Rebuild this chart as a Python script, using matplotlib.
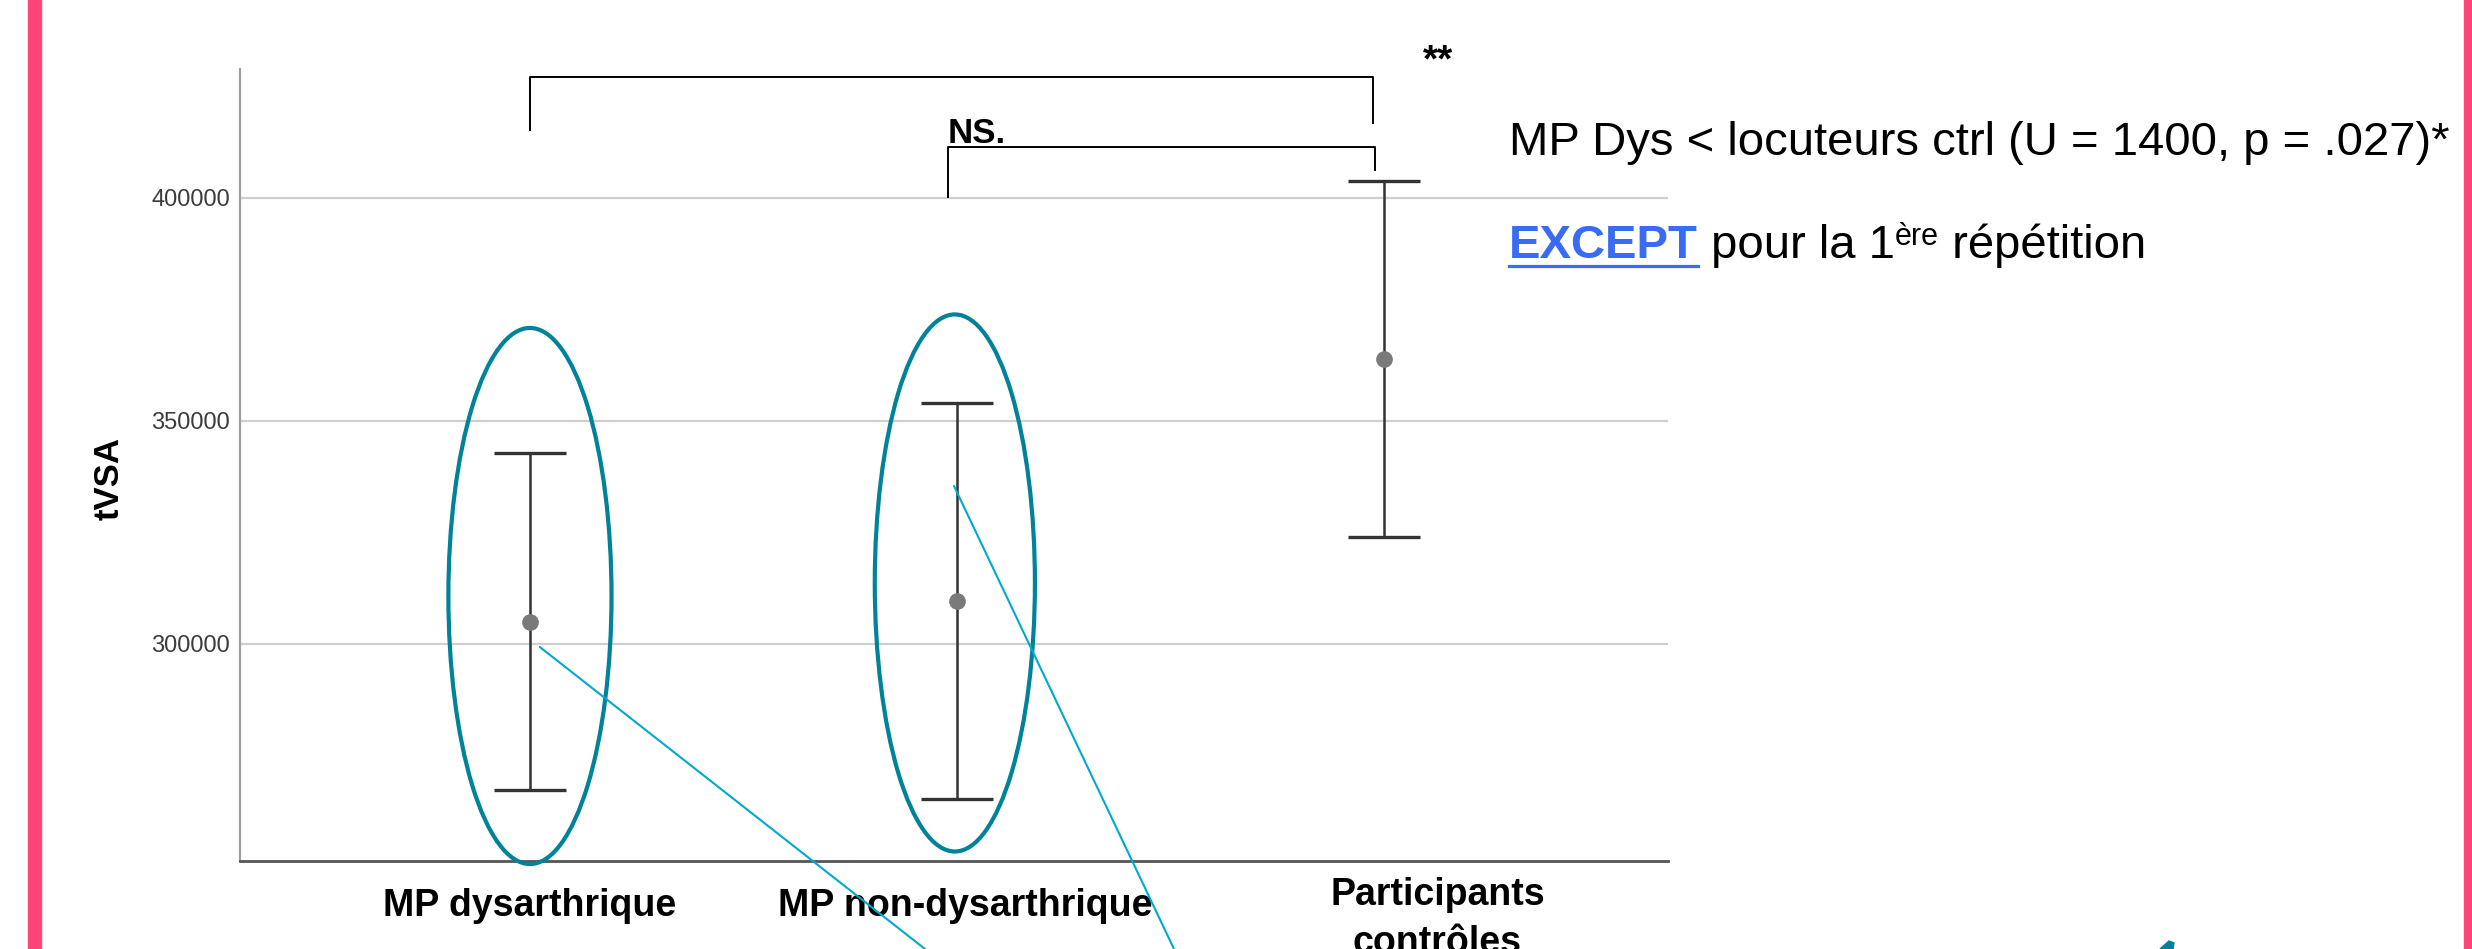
import numpy as np
import matplotlib
matplotlib.use('Agg')
import matplotlib.pyplot as plt
from matplotlib.patches import Ellipse, Rectangle, Polygon
from matplotlib.lines import Line2D

plt.rcParams['font.family'] = ['Liberation Sans', 'DejaVu Sans']

# values (mean and 95% CI of tVSA)
groups = ['MP dysarthrique', 'MP non-dysarthrique', 'Participants\ncontrôles']
means = [304930, 309570, 363800]
ci_low = [267180, 265140, 323900]
ci_high = [342760, 354010, 403700]
yticks = [300000, 350000, 400000]

# label positions (labels are not centred exactly on the bars in the original)
label_x = [0.0, 1.02, 2.125]

W, H = 2472, 949
fig = plt.figure(figsize=(W / 100, H / 100), dpi=100)
ax = fig.add_axes([240 / W, 1 - 861 / H, (1668 - 240) / W, (861 - 69) / H])

x = np.arange(len(groups))
means_a = np.array(means)
yerr = [means_a - np.array(ci_low), np.array(ci_high) - means_a]

ax.errorbar(x, means, yerr=yerr, fmt='o', color='#7a7a7a', markersize=11,
            ecolor='#333333', elinewidth=1.8, capsize=26, capthick=2.4, zorder=3)

ax.set_xlim(-0.679, 2.665)
ax.set_ylim(251350, 428900)
ax.set_yticks(yticks)
ax.set_yticklabels([str(v) for v in yticks], fontsize=17, color='#3c3c3c',
                   family=['Liberation Sans Narrow', 'Liberation Sans', 'DejaVu Sans'])
ax.set_xticks([])
ax.tick_params(axis='y', length=0, pad=7)
ax.yaxis.grid(True, color='#cfcfcf', lw=1.6)
ax.set_axisbelow(True)
for s in ['top', 'right']:
    ax.spines[s].set_visible(False)
ax.spines['left'].set_color('#a0a0a0')
ax.spines['left'].set_linewidth(1.6)
ax.spines['bottom'].set_color('#555555')
ax.spines['bottom'].set_linewidth(2)

# category labels
tr = ax.get_xaxis_transform()
for lx, g in zip(label_x, groups):
    lines = g.split('\n')
    if len(lines) == 1:
        ax.text(lx, -0.0694, g, transform=tr, ha='center', va='baseline',
                fontsize=27, fontweight='bold', clip_on=False)
    else:
        ax.text(lx, -0.0556, lines[0], transform=tr, ha='center', va='baseline',
                fontsize=27, fontweight='bold', clip_on=False)
        ax.text(lx, -0.1162, lines[1], transform=tr, ha='center', va='baseline',
                fontsize=27, fontweight='bold', clip_on=False)

# y label
fig.text(109 / W, 1 - 478 / H, 'tVSA', rotation=90, ha='center', va='center',
         fontsize=25, fontweight='bold',
         family=['Liberation Sans Narrow', 'Liberation Sans', 'DejaVu Sans'])

# significance brackets
ax.plot([0.0, 0.0, 1.975, 1.975], [415250, 427080, 427080, 416800],
        color='black', lw=1.4, clip_on=False)
ax.plot([0.979, 0.979, 1.98, 1.98], [400200, 411400, 411400, 406300],
        color='black', lw=1.4, clip_on=False)
ax.text(2.127, 428250, '**', ha='center', va='baseline', fontsize=28,
        fontweight='bold', clip_on=False)
ax.text(0.977, 412330, 'NS.', ha='left', va='baseline', fontsize=25,
        fontweight='bold', clip_on=False,
        family=['Liberation Sans Narrow', 'Liberation Sans', 'DejaVu Sans'])

# teal ellipses around the two patient groups
teal = '#00829A'
ax.add_patch(Ellipse((0.0, 310760), 0.382, 120180, fill=False, ec=teal,
                     lw=3, clip_on=False, zorder=4))
ax.add_patch(Ellipse((0.995, 313680), 0.375, 120400, fill=False, ec=teal,
                     lw=3, clip_on=False, zorder=4))

# cyan pointer lines running off the bottom of the slide
cyan = '#00A9CE'
for start, end in [((0.023, 299330), (925 / W, 0)), ((0.993, 335430), (1174 / W, 0))]:
    ax.annotate('', xy=end, xycoords='figure fraction', xytext=start,
                textcoords='data',
                arrowprops=dict(arrowstyle='-', color=cyan, lw=1.5,
                                shrinkA=0, shrinkB=0), zorder=5)

# right hand text
fig.text(1509 / W, 1 - 155 / H, 'MP Dys < locuteurs ctrl (U = 1400, p = .027)*',
         fontsize=34, va='baseline', ha='left', color='black')

renderer = fig.canvas.get_renderer()
base = 1 - 258 / H
xpos = 1509 / W
pieces = [
    ('EXCEPT', dict(fontsize=34, fontweight='bold', color='#3A6BF5'), 0.0),
    (' pour la 1', dict(fontsize=34, color='black'), 0.0),
    ('ère', dict(fontsize=22, color='black'), 13 / H),
    (' répétition', dict(fontsize=34, color='black'), 0.0),
]
for i, (txt, kw, dy) in enumerate(pieces):
    t = fig.text(xpos, base + dy, txt, va='baseline', ha='left', **kw)
    bb = t.get_window_extent(renderer)
    if i == 0:
        fig.add_artist(Line2D([bb.x0 / W, bb.x1 / W], [1 - 266 / H] * 2,
                              color='#3A6BF5', lw=2.3, transform=fig.transFigure))
    xpos = bb.x1 / W

# pink slide borders
pink = '#FF457A'
fig.add_artist(Rectangle((28 / W, 0), 13 / W, 1, transform=fig.transFigure,
                         color=pink, zorder=0))
fig.add_artist(Rectangle((2464 / W, 0), 8 / W, 1, transform=fig.transFigure,
                         color=pink, zorder=0))

# tip of a teal arrow cut off at the bottom
fig.add_artist(Polygon([(2160 / W, 0), (2169 / W, 1 - 941 / H), (2174 / W, 1 - 943 / H),
                        (2173 / W, 0)], closed=True, transform=fig.transFigure,
                       color=teal))

fig.savefig('out.png', dpi=100)
